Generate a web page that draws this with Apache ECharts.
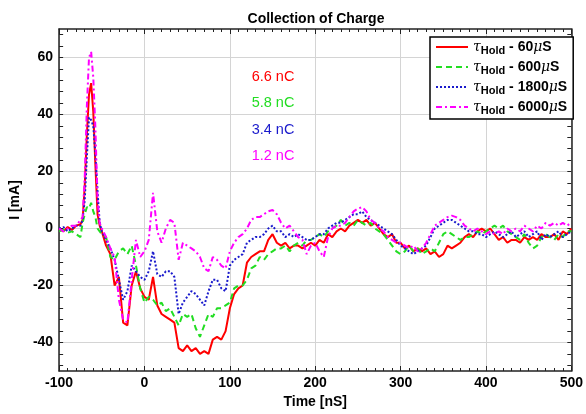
<!DOCTYPE html>
<html><head><meta charset="utf-8">
<script src="https://cdn.jsdelivr.net/npm/echarts@6/dist/echarts.min.js"></script>
<style>html,body{margin:0;padding:0;background:#fff}#c{width:586px;height:414px}</style>
</head><body><div id="c"></div>
<script>
// time axis (ns)
const times = [
  -100,-95,-90,-85,-80,-75,-72.5,-70,-67.5,-65,-62.5,-60,-57.5,-55,-52.5,-50,
  -45,-40,-35,-30,-25,-20,-15,-10,-5,0,
  5,10,15,20,25,30,35,40,45,50,
  55,60,65,70,75,80,85,90,95,100,
  105,110,115,120,125,130,135,140,145,150,
  155,160,165,170,175,180,185,190,195,200,
  205,210,215,220,225,230,235,240,245,250,
  255,260,265,270,275,280,285,290,295,300,
  305,310,315,320,325,330,335,340,345,350,
  355,360,365,370,375,380,385,390,395,400,
  405,410,415,420,425,430,435,440,445,450,
  455,460,465,470,475,480,485,490,495,500
];
// tau_Hold = 60 uS (red)
const hold60 = [
  0,-1,0.5,-0.5,1,1.5,3,15,33,47,51,41,22,5,1,-1,
  -6,-9,-20,-17,-33,-34,-20,-15,-21,-24,
  -25,-17,-27,-30,-31,-32,-33,-42,-43,-41,
  -43,-42,-44,-43,-44,-39,-38,-39,-36,-28,
  -23,-21,-20,-12,-10,-9,-8,-8,-4,-2,
  -5,-6,-5,-7,-6,-6,-7,-6,-5,-6,
  -4,-5,-2,-3,-1,0,-1,1,2,3,
  2,3,1,2,0,-2,-3,-2,-5,-5,
  -7,-6,-8,-7,-8,-7,-9,-8,-10,-9,
  -6,-7,-6,-5,-3,-2,-3,-1,0,-1,
  0,-2,-4,-3,-5,-4,-4,-5,-3,-4,
  -3,-4,-2,-3,-3,-2,-4,-1,-2,0
];
// tau_Hold = 600 uS (green)
const hold600 = [
  -1,-0.5,-1.5,-1,-2,-3,2,5,7.5,7,9,6,4,0,-1,-2,
  -3,-10,-11,-8,-7,-9,-6,-13,-21,-26,
  -24,-25,-27,-26,-29,-28,-31,-34,-30,-31,
  -30,-35,-38,-34,-30,-31,-28,-28,-27,-26,
  -21,-20,-20,-18,-14,-13,-10,-11,-9,-8,
  -7,-7,-6,-8,-6,-5,-6,-4,-4,-3,
  -2,-3,-1,0,1,3,1,2,1,3,
  2,1,2,0,-1,-2,-4,-6,-8,-9,
  -8,-6,-8,-7,-9,-8,-7,-8,-5,-2,
  -1,-2,-3,-4,-3,-3,-2,-1,-2,-1,
  0,1,0,1,-1,-2,-3,-4,-2,-5,
  -7,-6,-3,-2,-3,-4,-2,-3,-1,-1
];
// tau_Hold = 1800 uS (blue)
const hold1800 = [
  0,0.5,-1,0,1,1,3,10,25,39,38,36,26,13,2,-1,
  -4,-7,-11,-18,-25,-22,-13,-15,-17,-18,
  -15,-8,-16,-17,-15,-15,-17,-30,-26,-24,
  -22,-23,-25,-27,-22,-18,-18,-21,-22,-13,
  -11,-10,-9,-5,-4,-3,-3,-2,0,1,
  -1,-1,-3,-2,-3,-2,-3,-4,-4,-3,
  -2,-2,0,1,2,2,3,4,5,5,
  6,4,3,2,1,0,-1,-2,-4,-6,
  -7,-8,-9,-8,-7,-6,-3,0,1,2,
  3,3,2,1,0,-1,-1,-2,-2,-3,
  -2,-1,-2,-3,-2,-1,-3,-2,-1,-3,
  -2,-1,-4,-2,-3,-2,-1,-3,-2,-1
];
// tau_Hold = 6000 uS (magenta)
const hold6000 = [
  0,-1,0,1,1,3,4,18,43,60,62,53,35,10,2,0,
  -3,-7,-10,-25,-32,-33,-18,-4,-10,-8,
  -4,12.5,-1,-5,0,3,2,-11,-5,-6,
  -7,-8,-10,-14,-15,-10,-11,-13,-14,-8,
  -5,-3,-2,0,3,4,4,5,6,6.5,
  5,2,0,1,-1,-3,-4,-9,-6,-5,
  -8,-10,-3,0,1,1,2,4,6,7,
  7.5,6,3,2,0,-1,-3,-4,-5,-5,
  -6,-7,-6,-8,-7,-5,-2,1,2,3,
  4,4.5,4,3,1,0,-1,0,-1,-2,
  -1,-2,-1,-2,0,-1,0,-1,1,0,
  -1,1,0,2,1,2,1,2,1,2
];
const holdLabels = ['60','600','1800','6000'];
const chargeLabels = ['6.6 nC','5.8 nC','3.4 nC','1.2 nC'];
const yTickLabels = [-40,-20,0,20,40,60];
const yMinorTicks = [-48,-44,-40,-36,-32,-28,-24,-20,-16,-12,-8,-4,0,4,8,12,16,20,24,28,32,36,40,44,48,52,56,60,64,68];

const FONT = '"Liberation Sans", Arial, sans-serif';
const colors = ['#ff0000','#22dd22','#1a1acc','#ff00ff'];
const dashes = ['solid',[6,4],[2,2],[6,3,2,3]];
const seriesVals = [hold60, hold600, hold1800, hold6000];
const names = holdLabels.map(h => '\u03C4Hold - ' + h + '\u03BCS');

const chart = echarts.init(document.getElementById('c'));
const axisCol = '#222';
const lblStyle = {fontFamily: FONT, fontWeight: 'bold', fontSize: 14, color: '#000'};

chart.setOption({
  backgroundColor: '#fff',
  animation: false,
  grid: {left: 54, right: 9, top: 29, bottom: 33},
  xAxis: [
    {type: 'value', min: -100, max: 500, interval: 100, position: 'bottom',
     name: 'Time [nS]', nameLocation: 'middle', nameGap: 24,
     nameTextStyle: lblStyle,
     axisLine: {show: true, onZero: false, lineStyle: {color: axisCol, width: 1.5}},
     axisTick: {show: true, inside: true, length: 5, lineStyle: {color: axisCol}},
     minorTick: {show: true, splitNumber: 10, length: 3, lineStyle: {color: axisCol}},
     splitLine: {show: true, lineStyle: {color: '#d4d4d4', width: 1}},
     axisLabel: Object.assign({margin: 5}, lblStyle)},
    {type: 'value', min: -100, max: 500, interval: 100, position: 'top',
     axisLine: {show: true, onZero: false, lineStyle: {color: axisCol, width: 1.5}},
     axisTick: {show: true, inside: true, length: 5, lineStyle: {color: axisCol}},
     minorTick: {show: true, splitNumber: 10, length: 3, lineStyle: {color: axisCol}},
     splitLine: {show: false}, axisLabel: {show: false}}
  ],
  yAxis: [
    {type: 'value', min: -50, max: 70, position: 'left',
     name: 'I [mA]', nameLocation: 'middle', nameGap: 36, nameRotate: 90,
     nameTextStyle: lblStyle,
     axisLine: {show: true, onZero: false, lineStyle: {color: axisCol, width: 1.5}},
     axisTick: {show: true, inside: true, length: 4, customValues: yMinorTicks, lineStyle: {color: axisCol}},
     axisLabel: Object.assign({margin: 6, customValues: yTickLabels}, lblStyle),
     splitLine: {show: false}},
    {type: 'value', min: -50, max: 70, position: 'left',
     axisLine: {show: false}, axisTick: {show: false, customValues: yTickLabels},
     axisLabel: {show: false},
     splitLine: {show: true, lineStyle: {color: '#d4d4d4', width: 1}}},
    {type: 'value', min: -50, max: 70, position: 'right',
     axisLine: {show: true, onZero: false, lineStyle: {color: axisCol, width: 1.5}},
     axisTick: {show: true, inside: true, length: 4, customValues: yMinorTicks, lineStyle: {color: axisCol}},
     axisLabel: {show: false}, splitLine: {show: false}}
  ],
  legend: {
    orient: 'vertical', left: 430, top: 37,
    itemWidth: 32, itemHeight: 12, itemGap: 4,
    padding: [3, 6, 3, 5],
    backgroundColor: '#fff', borderColor: '#000', borderWidth: 1.5,
    itemStyle: {color: 'rgba(0,0,0,0)', borderColor: 'rgba(0,0,0,0)', borderWidth: 0, opacity: 0},
    data: names,
    formatter: function (name) {
      const i = names.indexOf(name);
      return '{t|\u03C4}{s|Hold}{b| - ' + holdLabels[i] + '}{m|\u03BC}{b|S}';
    },
    textStyle: {
      color: '#000',
      rich: {
        t: {fontFamily: '"DejaVu Serif", serif', fontStyle: 'italic', fontSize: 14, lineHeight: 18, color: '#000'},
        s: {fontFamily: FONT, fontWeight: 'bold', fontSize: 11, lineHeight: 9, verticalAlign: 'bottom', color: '#000'},
        b: {fontFamily: FONT, fontWeight: 'bold', fontSize: 14, lineHeight: 18, color: '#000'},
        m: {fontFamily: '"DejaVu Serif", serif', fontStyle: 'italic', fontSize: 14, lineHeight: 18, color: '#000'}
      }
    }
  },
  graphic: [
    {type: 'text', x: 316, y: 19, silent: true,
     style: {text: 'Collection of Charge', fill: '#000', font: 'bold 14px ' + FONT, textAlign: 'center', textVerticalAlign: 'middle'}}
  ].concat(chargeLabels.map((t, i) => ({
    type: 'text', x: 273, y: 77 + i * 26.3, silent: true,
    style: {text: t, fill: colors[i], font: '14.5px ' + FONT, textAlign: 'center', textVerticalAlign: 'middle'}
  }))),
  series: seriesVals.map((vals, i) => ({
    name: names[i], type: 'line', xAxisIndex: 0, yAxisIndex: 0,
    symbol: 'none', showSymbol: false, silent: true, z: 2 + i,
    data: times.map((t, j) => [t, vals[j]]),
    lineStyle: {color: colors[i], width: 2, type: dashes[i]},
    itemStyle: {color: colors[i]},
    emphasis: {disabled: true}
  }))
});
</script>
</body></html>
